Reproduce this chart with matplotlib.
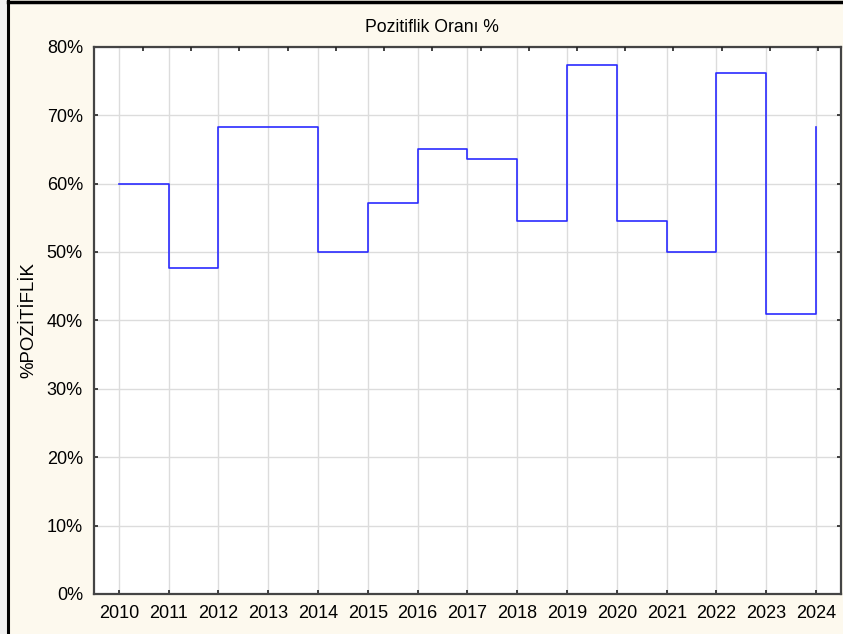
import numpy as np
import matplotlib
matplotlib.use('Agg')
from matplotlib import pyplot as plt
from matplotlib.lines import Line2D
from matplotlib.patches import Rectangle
from matplotlib.ticker import FuncFormatter

# data
years = [2010, 2011, 2012, 2013, 2014, 2015, 2016, 2017,
         2018, 2019, 2020, 2021, 2022, 2023, 2024]
positivity = [60.0, 47.6, 68.2, 68.2, 50.0, 57.1, 65.0, 63.6,
              54.5, 77.3, 54.5, 50.0, 76.2, 40.9, 68.2]
y_ticks = [0, 10, 20, 30, 40, 50, 60, 70, 80]

plt.rcParams['font.family'] = ['Liberation Sans', 'DejaVu Sans']
plt.rcParams['font.size'] = 13

fig = plt.figure(figsize=(8.43, 6.34), dpi=100, facecolor='#fdf9ee')
ax = fig.add_axes([94 / 843, 1 - 594 / 634, (841 - 94) / 843, (594 - 46.7) / 634])

ax.step(years, positivity, where='post', color='#2b2bff', lw=1.2, zorder=3)

ax.set_xlim(2009.5, 2024.5)
ax.set_ylim(0, 80)
ax.set_xticks(years)
ax.set_yticks(y_ticks)
ax.yaxis.set_major_formatter(FuncFormatter(lambda v, p: '%d%%' % v))
ax.grid(True, color='#dcdcdc', lw=1)
ax.set_axisbelow(True)
ax.tick_params(direction='in', length=3, width=1.2, color='#222222',
               right=True, labelsize=13, pad=8)

for s in ax.spines.values():
    s.set_color('#444444')
    s.set_linewidth(1.6)

# top ticks (independent scale, as in the source)
top = ax.twiny()
top.set_xlim(0, 1)
top.set_xticks(np.linspace((143 - 94) / 747, (818 - 94) / 747, 15))
top.tick_params(direction='in', length=3, width=1.2, color='#222222',
                labeltop=False)
for s in top.spines.values():
    s.set_visible(False)

fig.text(432 / 843, 1 - 27 / 634, 'Pozitiflik Oranı %', ha='center',
         va='center', fontsize=12.7)
ax.set_ylabel('%POZİTİFLİK', fontsize=13.4, labelpad=6.5)

# frame of the original window
fig.patches.append(Rectangle((0, 0), 6.5 / 843, 1, transform=fig.transFigure,
                             color='#f0f0f0', zorder=0))
fig.lines.append(Line2D([7.5 / 843, 7.5 / 843], [0, 1], transform=fig.transFigure,
                        color='black', lw=2.2))
fig.lines.append(Line2D([7.5 / 843, 1], [1 - 1.5 / 634, 1 - 1.5 / 634],
                        transform=fig.transFigure, color='black', lw=2.5))

fig.savefig('out.png', dpi=100, facecolor=fig.get_facecolor())
